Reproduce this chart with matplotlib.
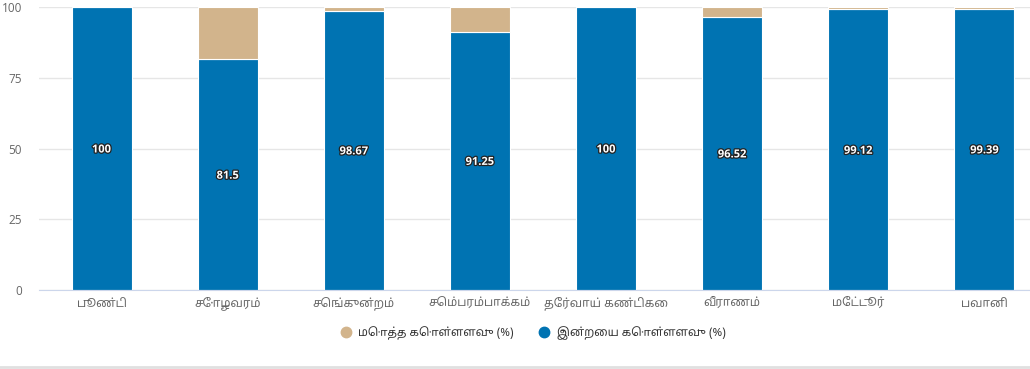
import numpy as np
import matplotlib
matplotlib.use("Agg")
import matplotlib.pyplot as plt
import matplotlib.patheffects as pe
from matplotlib.lines import Line2D

# reservoir names and levels (%)
reservoirs = ["பூண்டி", "சோழவரம்", "செங்குன்றம்", "செம்பரம்பாக்கம்",
              "தேர்வாய் கண்டிகை", "வீராணம்", "மேட்டூர்", "பவானி"]
today_pct = [100, 81.5, 98.67, 91.25, 100, 96.52, 99.12, 99.39]
empty_pct = [0, 18.5, 1.33, 8.75, 0, 3.48, 0.88, 0.61]
series_names = ["மொத்த கொள்ளளவு (%)", "இன்றைய கொள்ளளவு (%)"]
y_ticks = [0, 25, 50, 75, 100]

tamil = ["Noto Sans Tamil", "Lohit Tamil", "Open Sans", "DejaVu Sans"]
plt.rcParams["font.family"] = tamil

blue = "#0073b2"
tan = "#d2b48c"

fig = plt.figure(figsize=(10.3, 3.69), dpi=100)
W, H = 1030, 369
ax = fig.add_axes([38.5 / W, 79 / H, 1009 / W, 283 / H])

x = np.arange(len(reservoirs))
ax.bar(x, today_pct, width=0.475, color=blue, edgecolor="white", linewidth=0.8, zorder=3)
ax.bar(x, empty_pct, width=0.475, bottom=today_pct, color=tan, edgecolor="white",
       linewidth=0.8, zorder=3)

for xi, v in zip(x, today_pct):
    ax.text(xi, v / 2, "%g" % v, ha="center", va="center_baseline", color="white",
            fontsize=8, fontweight="bold", family=["Open Sans", "DejaVu Sans"], zorder=5,
            path_effects=[pe.withStroke(linewidth=1.8, foreground="#222222")])

ax.set_xlim(-0.5, len(reservoirs) - 0.5)
ax.set_ylim(0, 100)
ax.set_yticks(y_ticks)
ax.set_yticklabels([str(t) for t in y_ticks], family=["Open Sans", "DejaVu Sans"])
ax.set_xticks(x)
ax.set_xticklabels(reservoirs)
ax.tick_params(axis="y", length=0, pad=12, labelsize=8.5, labelcolor="#666666")
ax.tick_params(axis="x", length=0, pad=5, labelsize=8.5, labelcolor="#666666")
ax.grid(axis="y", color="#e6e6e6", linewidth=1, zorder=0)
for s in ["top", "right", "left"]:
    ax.spines[s].set_visible(False)
ax.spines["bottom"].set_color("#ccd6eb")
ax.spines["bottom"].set_zorder(4)

handles = [Line2D([], [], marker="o", linestyle="", markersize=7.5, color=c) for c in (tan, blue)]
fig.legend(handles, series_names, loc="center", bbox_to_anchor=(530 / W, 1 - 333 / H),
           ncol=2, frameon=False, fontsize=8.3, labelcolor="#333333",
           handletextpad=0.1, columnspacing=1.6)

fig.add_artist(Line2D([0, 1], [1 - 367 / H, 1 - 367 / H], color="#e0e0e0", linewidth=2))

fig.savefig("out.png", dpi=100)
